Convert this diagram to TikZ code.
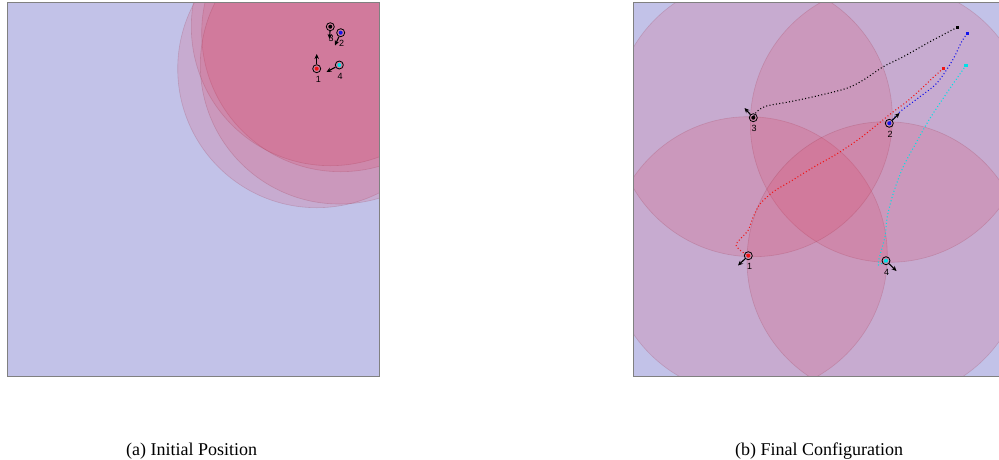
\documentclass[tikz,border=0pt]{standalone}
\usepackage{fontspec}
\setmainfont{Liberation Serif}
\newfontfamily\lblfont{Liberation Sans}
\usetikzlibrary{arrows.meta}
\definecolor{bgc}{RGB}{194,194,232}
\definecolor{discc}{RGB}{228,45,75}
\definecolor{framec}{RGB}{128,128,128}
\definecolor{cyanc}{RGB}{0,225,230}
\definecolor{bluec}{RGB}{20,20,235}
\definecolor{redc}{RGB}{240,20,20}
\begin{document}
\begin{tikzpicture}[x=1pt,y=-1pt,
 disc/.style={fill=discc, fill opacity=0.15, draw=discc!60!black, draw opacity=0.18, line width=0.6pt},
 panel/.style={draw=framec, line width=0.9pt},
 agent/.style={circle, draw=black, line width=0.8pt, minimum size=8pt, inner sep=0pt,
   path picture={\fill[#1] (path picture bounding box.center) circle (2pt);}},
 heading/.style={-{Stealth[length=5pt,width=4.5pt]}, line width=1.1pt, black},
 traj/.style={line width=1.1pt, dash pattern=on 1pt off 2.3pt},
 startdot/.style={rectangle, fill=#1, inner sep=0pt, minimum size=3.4pt},
 lbl/.style={font=\lblfont\fontsize{9}{9}\selectfont, inner sep=0pt, text=black},
 captext/.style={font=\fontsize{18}{21}\selectfont, inner sep=0pt, anchor=base west}
]
\useasboundingbox (0,0) rectangle (999,459);

% ---------------- Panel (a) ----------------
\begin{scope}
  \clip (7,2.7) rectangle (379.3,376);
  \fill[bgc] (7,2.7) rectangle (379.3,376);
  \path[disc] (316.7,68.7) circle[radius=139pt];
  \path[disc] (340.7,32.7) circle[radius=139pt];
  \path[disc] (330.3,26.7) circle[radius=139pt];
  \path[disc] (339.3,65) circle[radius=139pt];
\end{scope}
\draw[panel] (7,2.7) rectangle (379.3,376);

\node[agent=redc] (pa1) at (316.7,68.7) {};
\node[agent=bluec] (pa2) at (340.7,32.7) {};
\node[agent=black] (pa3) at (330.3,26.7) {};
\node[agent=cyanc] (pa4) at (339.3,65) {};
\coordinate (ha1) at (316.7,54);
\coordinate (ha2) at (335,45.5);
\coordinate (ha3) at (329.5,39);
\coordinate (ha4) at (326.5,72);
\draw[heading] (pa1) -- (ha1);
\draw[heading] (pa2) -- (ha2);
\draw[heading] (pa3) -- (ha3);
\draw[heading] (pa4) -- (ha4);
\node[lbl] (la1) at (318.3,79.3) {1};
\node[lbl] (la2) at (341.5,43.5) {2};
\node[lbl] (la3) at (331,38.3) {3};
\node[lbl] (la4) at (340,76) {4};

% ---------------- Panel (b) ----------------
\begin{scope}
  \clip (633.3,2.7) rectangle (1005.6,376);
  \fill[bgc] (633.3,2.7) rectangle (1005.6,376);
  \path[disc] (748.3,255.7) circle[radius=139pt];
  \path[disc] (889.3,123.3) circle[radius=139pt];
  \path[disc] (753.3,117.7) circle[radius=139pt];
  \path[disc] (886,260.7) circle[radius=139pt];
\end{scope}
\draw[panel] (633.3,2.7) rectangle (1005.6,376);

% start positions
\node[startdot=black] (sb3) at (957.3,27.3) {};
\node[startdot=bluec] (sb2) at (967.3,33.3) {};
\node[startdot=redc] (sb1) at (943.3,68.3) {};
\node[startdot=cyanc] (sb4) at (966,65.3) {};

% trajectories
\draw[traj, black] plot[smooth, tension=0.5] coordinates {(957.3,27.3) (930,41.7) (903.3,56.7) (883.3,66.7) (863.3,80) (846.7,88.3) (816.7,96) (790,101.7) (766.7,106) (756.7,111.7) (753.3,117.7)};
\draw[traj, bluec] plot[smooth, tension=0.5] coordinates {(967.3,33.3) (961.7,41.7) (951.7,61.7) (936.7,83.3) (920,96.7) (900,111.7) (889.3,123.3)};
\draw[traj, redc] plot[smooth, tension=0.5] coordinates {(943.3,68.3) (933.3,77.3) (920,90) (906.7,101.7) (893.3,111.7) (876.7,125) (860,138.3) (836.7,154) (813.3,167.3) (790,181.7) (773.3,191.7) (760,204) (753.3,216.7) (748.3,230) (740,239.3) (736,245) (740.7,250.7) (748.3,255.7)};
\draw[traj, cyanc] plot[smooth, tension=0.5] coordinates {(966,65.3) (950,88.3) (930,118.3) (916.7,141.7) (903.3,166.7) (893.3,193.3) (887.3,216.7) (885,236.7) (880,255) (878.3,265) (886,260.7)};

\node[agent=redc] (pb1) at (748.3,255.7) {};
\node[agent=bluec] (pb2) at (889.3,123.3) {};
\node[agent=black] (pb3) at (753.3,117.7) {};
\node[agent=cyanc] (pb4) at (886,260.7) {};
\coordinate (hb1) at (738,265.5);
\coordinate (hb2) at (899.5,113);
\coordinate (hb3) at (744.5,108);
\coordinate (hb4) at (896.5,271);
\draw[heading] (pb1) -- (hb1);
\draw[heading] (pb2) -- (hb2);
\draw[heading] (pb3) -- (hb3);
\draw[heading] (pb4) -- (hb4);
\node[lbl] (lb1) at (749.5,266.5) {1};
\node[lbl] (lb2) at (890,134) {2};
\node[lbl] (lb3) at (754,128.5) {3};
\node[lbl] (lb4) at (886.7,272) {4};

% captions
\node[captext] (capa) at (126,455.7) {(a) Initial Position};
\node[captext] (capb) at (735,455.7) {(b) Final Configuration};
\end{tikzpicture}
\end{document}
